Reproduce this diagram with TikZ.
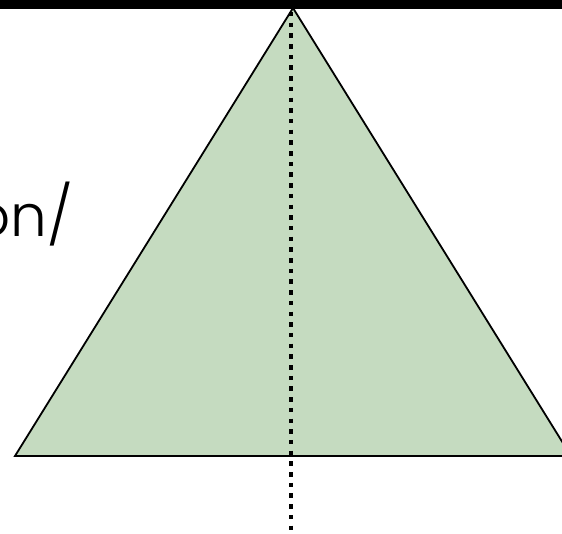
\documentclass[tikz,border=0pt]{standalone}
\usepackage{fontspec}
\setmainfont{Poppins}[UprightFont=* Light]
\definecolor{trigreen}{HTML}{C5DBC0}
\begin{document}
\begin{tikzpicture}[x=1pt,y=1pt,
  edge/.style={draw=black,line width=1.8pt,line join=miter},
  dotline/.style={draw=black,line width=4.5pt,dash pattern=on 4.5pt off 6.2pt}]
\useasboundingbox (0,0) rectangle (562,534);
\clip (0,0) rectangle (562,534);
\coordinate (apex) at (293,526);
\coordinate (bl) at (15,78);
\coordinate (br) at (571,78);
\filldraw[edge,fill=trigreen] (apex) -- (bl) -- (br) -- cycle;
\fill[black] (0,525) rectangle (562,534);
\coordinate (dtop) at (291,522);
\coordinate (dbot) at (291,0);
\draw[dotline] (dtop) -- (dbot);
\node[anchor=base east,inner sep=0pt,font=\fontsize{58}{60}\selectfont] (lbl) at (73,297) {on/};
\end{tikzpicture}
\end{document}
